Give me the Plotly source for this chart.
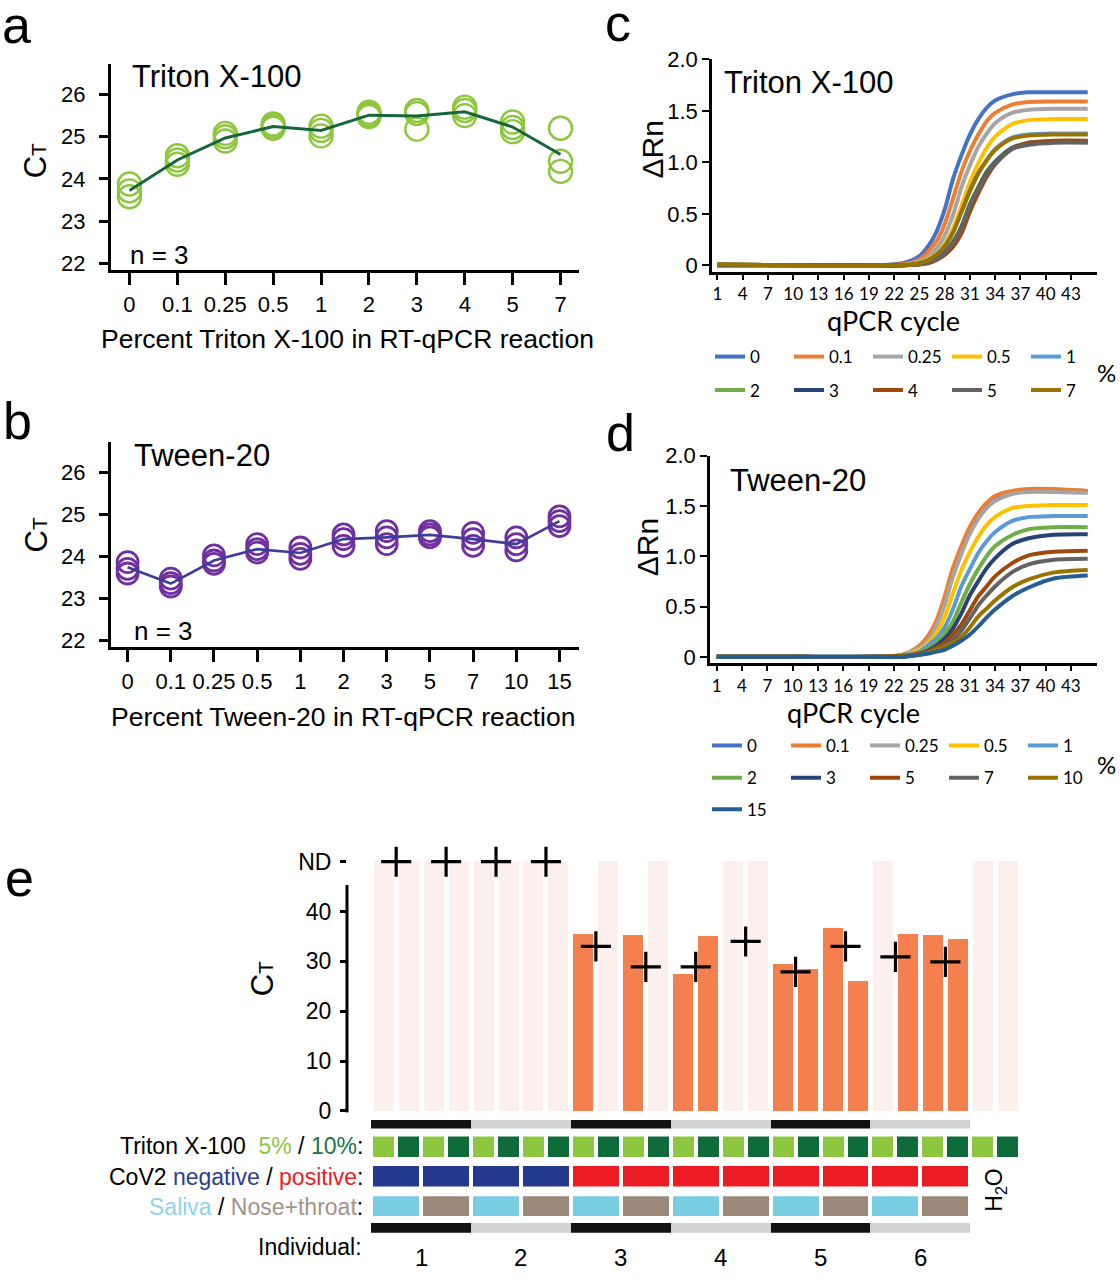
import plotly.graph_objects as go

W, H = 1120, 1280


def fx(x):
    return x / W


def fy(y):
    return 1 - y / H


ARIAL = "Liberation Sans"
CALIBRI = "Lato"

# ---------------- Panel a : Triton X-100, Ct vs percent ----------------
TRITON_PCT = ["0", "0.1", "0.25", "0.5", "1", "2", "3", "4", "5", "7"]
TRITON_REP1 = [23.88, 24.55, 25.08, 25.30, 25.25, 25.58, 25.62, 25.70, 25.35, 25.20]
TRITON_REP2 = [23.72, 24.45, 25.00, 25.25, 25.15, 25.52, 25.55, 25.62, 25.22, 24.42]
TRITON_REP3 = [23.58, 24.35, 24.90, 25.20, 25.02, 25.48, 25.18, 25.50, 25.12, 24.18]
TRITON_MEAN = [23.73, 24.45, 24.97, 25.24, 25.15, 25.51, 25.49, 25.59, 25.23, 24.58]

# ---------------- Panel b : Tween-20, Ct vs percent ----------------
TWEEN_PCT = ["0", "0.1", "0.25", "0.5", "1", "2", "3", "5", "7", "10", "15"]
TWEEN_REP1 = [23.87, 23.48, 24.03, 24.30, 24.22, 24.53, 24.61, 24.61, 24.57, 24.46, 24.96]
TWEEN_REP2 = [23.71, 23.37, 23.91, 24.18, 24.07, 24.42, 24.46, 24.53, 24.42, 24.30, 24.85]
TWEEN_REP3 = [23.60, 23.29, 23.83, 24.10, 23.95, 24.26, 24.30, 24.46, 24.26, 24.15, 24.73]
TWEEN_MEAN = [23.75, 23.36, 23.91, 24.18, 24.09, 24.42, 24.46, 24.52, 24.42, 24.30, 24.85]

# ---------------- Panels c, d : amplification curves ----------------
CYCLES = [1, 10, 20, 23, 25, 26, 27, 28, 29, 30, 31, 32, 33, 34, 36, 38, 41, 45]
CYCLE_TICKS = [1, 4, 7, 10, 13, 16, 19, 22, 25, 28, 31, 34, 37, 40, 43]

TX_LABELS = ["0", "0.1", "0.25", "0.5", "1", "2", "3", "4", "5", "7"]
TX_0 = [0.01, 0.00, 0.00, 0.02, 0.09, 0.18, 0.32, 0.54, 0.84, 1.07, 1.27, 1.42, 1.53, 1.60, 1.66, 1.68, 1.68, 1.68]
TX_0_1 = [0.01, 0.00, 0.00, 0.01, 0.06, 0.13, 0.23, 0.40, 0.65, 0.91, 1.11, 1.27, 1.40, 1.48, 1.56, 1.585, 1.59, 1.59]
TX_0_25 = [0.01, 0.00, 0.00, 0.00, 0.04, 0.08, 0.16, 0.29, 0.49, 0.76, 0.97, 1.15, 1.28, 1.38, 1.48, 1.51, 1.52, 1.52]
TX_0_5 = [0.01, 0.00, 0.00, 0.00, 0.02, 0.06, 0.11, 0.21, 0.36, 0.58, 0.81, 0.99, 1.14, 1.25, 1.37, 1.41, 1.42, 1.42]
TX_1 = [0.01, 0.00, 0.00, 0.00, 0.02, 0.05, 0.10, 0.19, 0.32, 0.52, 0.73, 0.90, 1.02, 1.13, 1.24, 1.27, 1.28, 1.28]
TX_2 = [0.00, 0.00, 0.00, 0.00, 0.01, 0.03, 0.07, 0.13, 0.23, 0.38, 0.60, 0.76, 0.91, 1.01, 1.14, 1.19, 1.20, 1.20]
TX_3 = [0.00, 0.00, 0.00, 0.00, 0.01, 0.03, 0.06, 0.12, 0.22, 0.37, 0.58, 0.75, 0.90, 1.00, 1.14, 1.18, 1.20, 1.20]
TX_4 = [0.00, 0.00, 0.00, 0.00, 0.01, 0.02, 0.05, 0.10, 0.18, 0.31, 0.52, 0.70, 0.86, 0.98, 1.13, 1.19, 1.21, 1.21]
TX_5 = [0.00, 0.00, 0.00, 0.00, 0.01, 0.03, 0.06, 0.12, 0.22, 0.37, 0.58, 0.74, 0.89, 0.99, 1.13, 1.17, 1.19, 1.19]
TX_7 = [0.01, 0.00, 0.00, 0.00, 0.02, 0.05, 0.10, 0.18, 0.32, 0.52, 0.72, 0.89, 1.02, 1.12, 1.23, 1.26, 1.27, 1.27]

TW_LABELS = ["0", "0.1", "0.25", "0.5", "1", "2", "3", "5", "7", "10", "15"]
TW_0 = [0.00, 0.00, 0.00, 0.02, 0.09, 0.17, 0.32, 0.53, 0.83, 1.05, 1.25, 1.40, 1.51, 1.58, 1.64, 1.66, 1.66, 1.65]
TW_0_1 = [0.00, 0.00, 0.00, 0.02, 0.11, 0.20, 0.35, 0.59, 0.88, 1.10, 1.29, 1.43, 1.53, 1.60, 1.65, 1.67, 1.67, 1.65]
TW_0_25 = [0.00, 0.00, 0.00, 0.02, 0.09, 0.16, 0.30, 0.51, 0.79, 1.02, 1.22, 1.37, 1.48, 1.55, 1.62, 1.64, 1.64, 1.63]
TW_0_5 = [0.00, 0.00, 0.00, 0.01, 0.07, 0.13, 0.23, 0.39, 0.63, 0.86, 1.04, 1.19, 1.31, 1.39, 1.48, 1.50, 1.51, 1.51]
TW_1 = [0.00, 0.00, 0.00, 0.01, 0.05, 0.11, 0.18, 0.29, 0.47, 0.70, 0.87, 1.03, 1.15, 1.24, 1.35, 1.39, 1.40, 1.40]
TW_2 = [0.00, 0.00, 0.00, 0.01, 0.04, 0.08, 0.13, 0.23, 0.35, 0.54, 0.72, 0.87, 1.00, 1.10, 1.21, 1.27, 1.29, 1.29]
TW_3 = [0.00, 0.00, 0.00, 0.00, 0.03, 0.06, 0.11, 0.18, 0.28, 0.43, 0.61, 0.75, 0.88, 0.98, 1.12, 1.18, 1.215, 1.22]
TW_5 = [0.00, 0.00, 0.00, 0.01, 0.03, 0.05, 0.09, 0.14, 0.22, 0.32, 0.46, 0.60, 0.70, 0.80, 0.93, 1.01, 1.045, 1.055]
TW_7 = [0.00, 0.00, 0.00, 0.00, 0.02, 0.04, 0.07, 0.11, 0.17, 0.26, 0.38, 0.51, 0.61, 0.70, 0.84, 0.92, 0.965, 0.975]
TW_10 = [0.00, 0.00, 0.00, 0.01, 0.02, 0.04, 0.07, 0.10, 0.14, 0.20, 0.29, 0.40, 0.48, 0.56, 0.69, 0.77, 0.84, 0.865]
TW_15 = [0.00, 0.00, 0.00, 0.00, 0.02, 0.03, 0.05, 0.07, 0.11, 0.16, 0.22, 0.30, 0.39, 0.47, 0.60, 0.69, 0.78, 0.81]

# ---------------- Panel e : clinical samples ----------------
INDIVIDUALS = ["1", "2", "3", "4", "5", "6"]
COV2_STATUS = ["negative", "negative", "positive", "positive", "positive", "positive"]
SAMPLE_TYPES = ["Saliva", "Nose+throat"]
TRITON_LEVELS = ["5%", "10%"]
# Ct per well: individual -> sample type -> Triton 5% / 10%; None = not detected
CT_WELLS = [None, None, None, None, None, None, None, None,
            35.5, None, 35.3, None, 27.5, 35.1, None, None,
            29.4, 28.4, 36.6, 26.1, None, 35.5, 35.3, 34.4]
CT_H2O = [None, None]
# Ct of the matched reference test per sample (+ markers); None = ND
CT_REFERENCE = [None, None, None, None, 33.0, 28.9, 28.9, 34.0, 27.9, 33.0, 30.9, 29.9]
ND_LEVEL = 50

# ---------------- colours ----------------
GREEN_LIGHT = "#8DC63F"
GREEN_DARK = "#17653A"
PURPLE = "#7030A0"
PURPLE_LINE = "#3F3D99"
EXCEL = ["#4472C4", "#ED7D31", "#A5A5A5", "#FFC000", "#5B9BD5", "#70AD47",
         "#264478", "#9E480E", "#636363", "#997300", "#255E91"]
ORANGE = "#F4804F"
PINK = "#FBF0EE"
TRITON_COLORS = ["#8DC63F", "#0F6B3A"]
COV2_COLORS = {"negative": "#253A8E", "positive": "#EC1C24"}
SAMPLE_COLORS = ["#78CDE3", "#9C887B"]
STRIP_COLORS = ["#111111", "#D1D2D4"]

fig = go.Figure()

# ---- panel a
for reps in (TRITON_REP1, TRITON_REP2, TRITON_REP3):
    fig.add_trace(go.Scatter(
        x=TRITON_PCT, y=reps, mode="markers", xaxis="x", yaxis="y", showlegend=False,
        cliponaxis=False,
        marker=dict(symbol="circle-open", size=23, color=GREEN_LIGHT,
                    line=dict(width=2.4, color=GREEN_LIGHT))))
fig.add_trace(go.Scatter(x=TRITON_PCT, y=TRITON_MEAN, mode="lines", xaxis="x", yaxis="y",
                         showlegend=False, line=dict(color=GREEN_DARK, width=3)))

# ---- panel b
for reps in (TWEEN_REP1, TWEEN_REP2, TWEEN_REP3):
    fig.add_trace(go.Scatter(
        x=TWEEN_PCT, y=reps, mode="markers", xaxis="x2", yaxis="y2", showlegend=False,
        cliponaxis=False,
        marker=dict(symbol="circle-open", size=21, color=PURPLE,
                    line=dict(width=2.8, color=PURPLE))))
fig.add_trace(go.Scatter(x=TWEEN_PCT, y=TWEEN_MEAN, mode="lines", xaxis="x2", yaxis="y2",
                         showlegend=False, line=dict(color=PURPLE_LINE, width=2.6)))

# ---- panel c
TX_SERIES = [TX_0, TX_0_1, TX_0_25, TX_0_5, TX_1, TX_2, TX_3, TX_4, TX_5, TX_7]
for i, (lab, vals) in enumerate(zip(TX_LABELS, TX_SERIES)):
    fig.add_trace(go.Scatter(
        x=CYCLES, y=vals, mode="lines", name=lab, xaxis="x3", yaxis="y3",
        line=dict(color=EXCEL[i], width=4, shape="spline", smoothing=0.8),
        legend="legend" if i < 5 else "legend2"))

# ---- panel d
TW_SERIES = [TW_0, TW_0_1, TW_0_25, TW_0_5, TW_1, TW_2, TW_3, TW_5, TW_7, TW_10, TW_15]
for i, (lab, vals) in enumerate(zip(TW_LABELS, TW_SERIES)):
    fig.add_trace(go.Scatter(
        x=CYCLES, y=vals, mode="lines", name=lab, xaxis="x4", yaxis="y4",
        line=dict(color=EXCEL[i], width=4, shape="spline", smoothing=0.8),
        legend="legend3" if i < 5 else ("legend4" if i < 10 else "legend5")))

# ---- panel e
all_ct = CT_WELLS + CT_H2O
nd_x = [i for i, v in enumerate(all_ct) if v is None]
det_x = [i for i, v in enumerate(all_ct) if v is not None]
det_y = [v for v in all_ct if v is not None]
fig.add_trace(go.Bar(x=nd_x, y=[ND_LEVEL] * len(nd_x), width=0.8, marker=dict(color=PINK, line=dict(width=0)),
                     xaxis="x5", yaxis="y5", showlegend=False))
fig.add_trace(go.Bar(x=det_x, y=det_y, width=0.8, marker=dict(color=ORANGE, line=dict(width=0)),
                     xaxis="x5", yaxis="y5", showlegend=False))
pair_x = [2 * p + 0.5 for p in range(len(CT_REFERENCE))]
fig.add_trace(go.Scatter(
    x=pair_x, y=[ND_LEVEL if v is None else v for v in CT_REFERENCE], mode="markers",
    xaxis="x5", yaxis="y5", showlegend=False, cliponaxis=False,
    marker=dict(symbol="cross-thin", size=21.5, color="black", line=dict(width=3.2, color="black"))))

# annotation strips below
ind_x = [4 * k + 1.5 for k in range(len(INDIVIDUALS))]
ind_col = [STRIP_COLORS[k % 2] for k in range(len(INDIVIDUALS))]
for ya in ("y6", "y10"):
    fig.add_trace(go.Bar(x=ind_x, y=[1] * len(ind_x), width=4.0, marker=dict(color=ind_col, line=dict(width=0)),
                         xaxis="x5", yaxis=ya, showlegend=False))
well_x = list(range(len(all_ct)))
fig.add_trace(go.Bar(x=well_x, y=[1] * len(well_x), width=0.84,
                     marker=dict(color=[TRITON_COLORS[i % 2] for i in well_x], line=dict(width=0)),
                     xaxis="x5", yaxis="y7", showlegend=False))
sample_x = [2 * p + 0.5 for p in range(len(INDIVIDUALS) * len(SAMPLE_TYPES))]
fig.add_trace(go.Bar(x=sample_x, y=[1] * len(sample_x), width=1.84,
                     marker=dict(color=[COV2_COLORS[COV2_STATUS[p // 2]] for p in range(len(sample_x))],
                                 line=dict(width=0)),
                     xaxis="x5", yaxis="y8", showlegend=False))
fig.add_trace(go.Bar(x=sample_x, y=[1] * len(sample_x), width=1.84,
                     marker=dict(color=[SAMPLE_COLORS[p % 2] for p in range(len(sample_x))], line=dict(width=0)),
                     xaxis="x5", yaxis="y9", showlegend=False))

# ---------------- axes ----------------
ax_common = dict(showgrid=False, zeroline=False, linecolor="black", tickcolor="black",
                 ticks="outside", showline=True)

layout = dict(
    width=W, height=H, margin=dict(l=0, r=0, t=0, b=0),
    paper_bgcolor="white", plot_bgcolor="rgba(0,0,0,0)",
    font=dict(family=ARIAL, color="black"),
    barmode="overlay", bargap=0,
)

E_X0, E_X1 = 347, 1025          # pixel extent of panel e's x axis
E_RANGE = [-1.47, 25.69]


def e_px(v):
    """pixel x of a value on panel e's well axis"""
    return E_X0 + (v - E_RANGE[0]) / (E_RANGE[1] - E_RANGE[0]) * (E_X1 - E_X0)


layout["xaxis"] = dict(ax_common, domain=[fx(111), fx(578.5)], anchor="y", type="category",
                       categoryorder="array", categoryarray=TRITON_PCT, range=[-0.386, 9.375],
                       linewidth=3, ticklen=12, tickwidth=2.5, tickfont=dict(size=22, family=ARIAL))
layout["yaxis"] = dict(ax_common, domain=[fy(263), fy(53)], anchor="x", range=[21.84, 26.72],
                       tickvals=[22, 23, 24, 25, 26], linewidth=3, ticklen=9, tickwidth=2.5,
                       tickfont=dict(size=22, family=ARIAL), ticklabelstandoff=9)
layout["xaxis2"] = dict(ax_common, domain=[fx(111), fx(578.5)], anchor="y2", type="category",
                        categoryorder="array", categoryarray=TWEEN_PCT, range=[-0.384, 10.44],
                        linewidth=3, ticklen=12, tickwidth=2.5, tickfont=dict(size=22, family=ARIAL))
layout["yaxis2"] = dict(ax_common, domain=[fy(647), fy(438)], anchor="x2", range=[21.84, 26.73],
                        tickvals=[22, 23, 24, 25, 26], linewidth=3, ticklen=9, tickwidth=2.5,
                        tickfont=dict(size=22, family=ARIAL), ticklabelstandoff=9)
layout["xaxis3"] = dict(ax_common, domain=[fx(712), fx(1097)], anchor="y3", range=[0.36, 46.1],
                        tickvals=CYCLE_TICKS, linewidth=2.5, ticklen=5, tickwidth=2,
                        tickfont=dict(size=17, family=CALIBRI))
layout["yaxis3"] = dict(ax_common, domain=[fy(265), fy(48)], anchor="x3", range=[-0.067, 2.002],
                        tickvals=[0, 0.5, 1, 1.5, 2], ticktext=["0", "0.5", "1.0", "1.5", "2.0"],
                        linewidth=2.5, ticklen=7, tickwidth=2, tickfont=dict(size=22, family=ARIAL))
layout["xaxis4"] = dict(ax_common, domain=[fx(710), fx(1097)], anchor="y4", range=[0.2, 46.1],
                        tickvals=CYCLE_TICKS, linewidth=2.5, ticklen=5, tickwidth=2,
                        tickfont=dict(size=17, family=CALIBRI))
layout["yaxis4"] = dict(ax_common, domain=[fy(663.3), fy(451.7)], anchor="x4", range=[-0.065, 2.002],
                        tickvals=[0, 0.5, 1, 1.5, 2], ticktext=["0", "0.5", "1.0", "1.5", "2.0"],
                        linewidth=2.5, ticklen=7, tickwidth=2, tickfont=dict(size=22, family=ARIAL))
layout["xaxis5"] = dict(domain=[fx(E_X0), fx(E_X1)], anchor="y5", range=E_RANGE, visible=False)
layout["yaxis5"] = dict(domain=[fy(1121), fy(862.7)], anchor="x5", range=[-0.394, 50.5],
                        tickvals=[0, 10, 20, 30, 40, ND_LEVEL], ticktext=["0", "10", "20", "30", "40", "ND"],
                        showline=False, showgrid=False, zeroline=False, ticks="outside", ticklen=6,
                        tickwidth=3, tickcolor="black", tickfont=dict(size=23, family=ARIAL),
                        ticklabelstandoff=4)
strip_rows = {"yaxis6": (1128, 1137), "yaxis7": (1145, 1166), "yaxis8": (1175, 1196),
              "yaxis9": (1206, 1226), "yaxis10": (1233, 1243)}
for name, (top, bot) in strip_rows.items():
    layout[name] = dict(domain=[fy(bot), fy(top)], anchor="x5", range=[0, 1], visible=False)

# legends (one per row, as in the original Excel-style layout)
leg_common = dict(orientation="h", xanchor="left", yanchor="top", entrywidth=34,
                  entrywidthmode="pixels", bgcolor="rgba(0,0,0,0)",
                  font=dict(family=CALIBRI, size=17), tracegroupgap=0, itemclick=False,
                  itemdoubleclick=False)
layout["legend"] = dict(leg_common, x=fx(710), y=fy(351 - 18))
layout["legend2"] = dict(leg_common, x=fx(710), y=fy(385 - 18))
layout["legend3"] = dict(leg_common, x=fx(707), y=fy(747 - 18))
layout["legend4"] = dict(leg_common, x=fx(707), y=fy(780 - 18))
layout["legend5"] = dict(leg_common, x=fx(707), y=fy(812 - 18))

fig.update_layout(**layout)

# e axis line with break before ND
fig.add_shape(type="line", xref="x5 domain", yref="y5", x0=0, x1=0, y0=-0.3, y1=45.3,
              line=dict(color="black", width=3))


# ---------------- text ----------------
def txt(x, y, text, size, family=ARIAL, xanchor="center", yanchor="middle", angle=0, color="black"):
    fig.add_annotation(x=fx(x), y=fy(y), xref="paper", yref="paper", text=text, showarrow=False,
                       xanchor=xanchor, yanchor=yanchor, textangle=angle,
                       font=dict(size=size, family=family, color=color))


CT = "C<span style='font-size:21px'>T</span>"

# panel letters
txt(16, 13, "a", 52)
txt(17, 416, "b", 52)
txt(618, 11, "c", 52)
txt(620, 429, "d", 52)
txt(19, 882, "e", 52)

# a
txt(35, 152, CT, 31, angle=-90)
txt(130, 66, "Triton X-100", 31, xanchor="left")
txt(128, 247, "n = 3", 26, xanchor="left")
txt(347.5, 333, "Percent Triton X-100 in RT-qPCR reaction", 26.5)
# b
txt(36, 533, CT, 31, angle=-90)
txt(132, 452, "Tween-20", 31, xanchor="left")
txt(132, 630, "n = 3", 26, xanchor="left")
txt(343, 718, "Percent Tween-20 in RT-qPCR reaction", 26.5)
# c
txt(652, 140, "ΔRn", 30, angle=-90)
txt(722, 72, "Triton X-100", 31, xanchor="left")
txt(893, 314, "qPCR cycle", 27, family=CALIBRI)
txt(1118, 367, "%", 24, family=CALIBRI, xanchor="right")
# d
txt(647, 545, "ΔRn", 30, angle=-90)
txt(728, 477, "Tween-20", 31, xanchor="left")
txt(853, 713, "qPCR cycle", 27, family=CALIBRI)
txt(1118, 766, "%", 24, family=CALIBRI, xanchor="right")
# e
txt(262, 985, CT, 31, angle=-90)
txt(365, 1155, "Triton X-100\u00a0 <span style='color:#8DC63F'>5%</span> / "
               "<span style='color:#17754A'>10%</span>:", 23, xanchor="right")
txt(365, 1186, "CoV2 <span style='color:#2E3D8F'>negative</span> / "
               "<span style='color:#ED1C24'>positive</span>:", 23, xanchor="right")
txt(365, 1217, "<span style='color:#8FD3EA'>Saliva</span> / "
               "<span style='color:#A29388'>Nose+throat</span>:", 23, xanchor="right")
txt(364, 1258, "Individual:", 23, xanchor="right")
for k, lab in enumerate(INDIVIDUALS):
    txt(e_px(ind_x[k]), 1268, lab, 24)
txt(e_px(24.5), 1200, "H<sub>2</sub>O", 23, angle=-90)

PAGE_FIX = (
    "document.documentElement.style.margin='0';"
    "document.documentElement.style.padding='0';"
    "document.body.style.margin='0';"
    "document.body.style.padding='0';"
    "var gd=document.getElementById('{plot_id}');"
    "gd.style.position='absolute';gd.style.left='0px';gd.style.top='0px';"
)
fig.write_html("out.html", config={"displayModeBar": False}, post_script=PAGE_FIX)
